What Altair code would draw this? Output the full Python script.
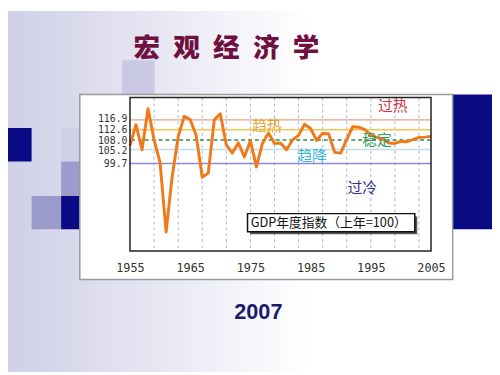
import altair as alt
import pandas as pd

# ---------------- data ----------------
years = list(range(1955, 2006))
gdp_index = [106.8, 115.0, 105.1, 121.3, 109.0, 100.0, 72.7, 94.4, 110.2, 118.3,
             117.0, 110.7, 94.3, 95.9, 116.9, 119.3, 107.0, 103.8, 107.9, 102.3,
             108.7, 98.4, 107.6, 111.7, 107.6, 107.8, 105.1, 109.0, 110.8, 115.2,
             113.5, 108.8, 111.6, 111.3, 104.1, 103.8, 109.2, 114.2, 114.0, 113.1,
             110.9, 110.0, 109.3, 107.8, 107.6, 108.4, 108.3, 109.1, 110.0, 110.1,
             110.4]
x_labels = [1955, 1965, 1975, 1985, 1995, 2005]
grid_years = [1959, 1963, 1967, 1971, 1975, 1979, 1983, 1987, 1991, 1995, 1999, 2003]
ref_values = [116.9, 112.6, 108.0, 105.2, 99.7]
zone_labels = ["过热", "趋热", "稳定", "趋降", "过冷"]
legend_text = "GDP年度指数（上年=100）"
slide_title = "宏\u2002观\u2002经\u2002济\u2002学"
slide_year = "2007"

df = pd.DataFrame({"year": years, "gdp": gdp_index})

# ---------------- layout helpers ----------------
OX, OY = 132, 96          # plot-area origin in page pixels
W, H = 306, 156
one = pd.DataFrame({"k": [0]})

def box(x1, y1, x2, y2, **kw):
    return alt.Chart(one).mark_rect(**kw).encode(
        x=alt.value(x1 - OX), x2=alt.value(x2 - OX),
        y=alt.value(y1 - OY), y2=alt.value(y2 - OY))

def label(text, cx, cy, **kw):
    return alt.Chart(one).mark_text(text=text, align="center", baseline="middle", **kw).encode(
        x=alt.value(cx - OX), y=alt.value(cy - OY))

xscale = alt.Scale(domain=[1955, 2005], nice=False, zero=False)
yscale = alt.Scale(domain=[65.2, 125.7], nice=False, zero=False)
mono = "DejaVu Sans Mono"
cjk = "Noto Sans CJK SC"
xaxis = alt.Axis(values=x_labels, format="d", title=None, ticks=False, domain=False, grid=False,
                 labelFont=mono, labelFontSize=12, labelColor="#333", labelPadding=12,
                 labelFlush=False, labelOverlap=False, zindex=1)
# small nudges so the crowded labels are spread as in the original
yaxis = alt.Axis(values=ref_values, format=".1f", title=None, ticks=False, domain=False, grid=False,
                 labelFont=mono, labelFontSize=10, labelColor="#333", labelPadding=3,
                 labelOverlap=False, zindex=1,
                 labelOffset={"condition": [{"test": "datum.value == 116.9", "value": -1.5},
                                            {"test": "datum.value == 112.6", "value": -1.5},
                                            {"test": "datum.value == 108", "value": -2},
                                            {"test": "datum.value == 105.2", "value": 1}],
                              "value": 0})

layers = []

# slide background gradient
layers.append(box(8, 8, 500, 375, fill=alt.Gradient(
    gradient="linear", x1=0, x2=1, y1=0, y2=0,
    stops=[alt.GradientStop(color="#cfcfe7", offset=0),
           alt.GradientStop(color="#e6e6f3", offset=0.3),
           alt.GradientStop(color="#ffffff", offset=0.62)])))

# decorative squares
navy = "#0a0a84"
layers += [
    box(124, 58, 157, 93, color="#c9c9e3"),
    box(0, 127, 32, 161, color=navy),
    box(62, 127, 95, 161, color="#d0d0e8"),
    box(62, 161, 95, 196, color="#9c9ccd"),
    box(32, 196, 62, 230, color="#9a9acb"),
    box(62, 196, 95, 230, color=navy),
    box(460, 93, 500, 230, color=navy),
]

# chart card
layers.append(box(81, 93, 460, 281, fill="white", stroke="#9a9a9a", strokeWidth=1.5))

# vertical dashed grid
layers.append(alt.Chart(pd.DataFrame({"g": grid_years})).mark_rule(
    color="#b5b5b5", strokeDash=[3, 3], strokeWidth=1).encode(
    x=alt.X("g:Q", scale=xscale, axis=xaxis)))

# horizontal reference lines
rule_colors = ["#dca88c", "#f6c64c", "#2f8f4f", "#c2dde9", "#8c8cd6"]
rule_nudge = [0, -1, -2.5, 0, 0]
for i, v in enumerate(ref_values):
    kw = {"strokeDash": [4, 3]} if i == 2 else {}
    layers.append(alt.Chart(pd.DataFrame({"v": [v]})).mark_rule(
        color=rule_colors[i], strokeWidth=1.5, yOffset=rule_nudge[i], **kw).encode(
        y=alt.Y("v:Q", scale=yscale, axis=yaxis)))

# GDP line
layers.append(alt.Chart(df).mark_line(color="#f07a1a", strokeWidth=3, strokeJoin="round").encode(
    x=alt.X("year:Q", scale=xscale, axis=xaxis),
    y=alt.Y("gdp:Q", scale=yscale, axis=yaxis)))

# plot frame
layers.append(box(OX, OY, OX + W, OY + H, fill=None, fillOpacity=0, stroke="#222", strokeWidth=1.5))

# zone labels
layers += [
    label(zone_labels[0], 399, 105, font=cjk, fontSize=15, color="#cc3344"),
    label(zone_labels[1], 271, 125, font=cjk, fontSize=15, color="#eea530"),
    label(zone_labels[2], 383, 139, font=cjk, fontSize=15, color="#3a9a5a"),
    label(zone_labels[3], 317, 155, font=cjk, fontSize=15, color="#35b5d5"),
    label(zone_labels[4], 368, 188, font=cjk, fontSize=15, color="#2e2e96"),
]

# legend box
layers += [
    box(254, 217, 424, 235, fill="#555", stroke=None),
    box(251.5, 214, 421.5, 232.5, fill="white", stroke="#111", strokeWidth=1.5),
    label(legend_text, 334, 223.5, font=cjk, fontSize=13, color="#111"),
]

# slide texts
layers += [
    label(slide_title, 230, 47, font=cjk, fontSize=27, fontWeight=900, color="#6e1040"),
    label(slide_year, 262.5, 314, font="Liberation Sans", fontSize=22, fontWeight="bold", color="#1c1c6c"),
]

chart = alt.layer(*layers).properties(
    width=W, height=H,
    autosize=alt.AutoSizeParams(type="none"),
    padding={"left": OX - 8, "top": OY - 8, "right": 500 - 8 - (OX - 8) - W, "bottom": 375 - 8 - (OY - 8) - H},
).configure_view(stroke=None).configure(background="white")

chart.save("out.html", embed_options={"renderer": "svg", "actions": False})
